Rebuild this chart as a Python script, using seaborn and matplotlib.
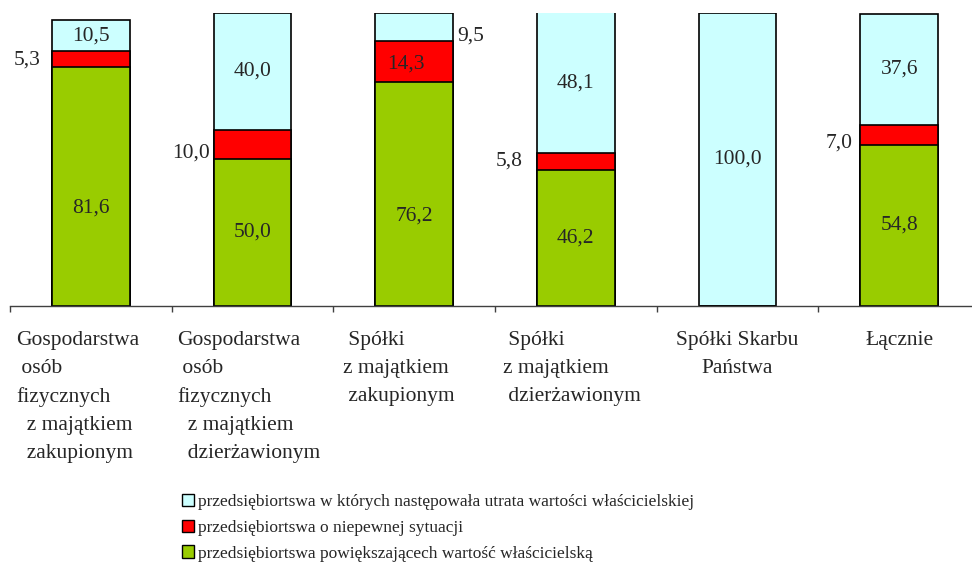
import matplotlib
matplotlib.use("Agg")
import matplotlib.pyplot as plt
import matplotlib.transforms as mtransforms
from matplotlib.patches import Patch
import seaborn as sns
import pandas as pd

sns.set_theme(style="white")
plt.rcParams["font.family"] = ["Liberation Serif", "DejaVu Serif"]

# Category labels (line breaks and indents as typeset under each bar)
categories = [
    "Gospodarstwa\n osób\nfizycznych\n  z majątkiem\n  zakupionym",
    "Gospodarstwa\n osób\nfizycznych\n  z majątkiem\n  dzierżawionym",
    " Spółki\nz majątkiem\n zakupionym",
    " Spółki\nz majątkiem\n dzierżawionym",
    "Spółki Skarbu\nPaństwa",
    "Łącznie",
]
# Share of enterprises (%) in each group
increasing = [81.6, 50.0, 76.2, 46.2, 0.0, 54.8]
uncertain = [5.3, 10.0, 14.3, 5.8, 0.0, 7.0]
losing = [10.5, 40.0, 9.5, 48.1, 100.0, 37.6]

series_names = [
    "przedsiębiortswa w których następowała utrata wartości właścicielskiej",
    "przedsiębiortswa o niepewnej sytuacji",
    "przedsiębiortswa powiększającech wartość właścicielską",
]
colors = {"losing": "#CCFFFF", "uncertain": "#FF0000", "increasing": "#99CC00"}

df = pd.DataFrame({
    "idx": range(len(categories)),
    "increasing": increasing,
    "uncertain": uncertain,
    "losing": losing,
})
df["top_green"] = df["increasing"]
df["top_red"] = df["increasing"] + df["uncertain"]
df["top_cyan"] = df["top_red"] + df["losing"]

fig = plt.figure(figsize=(9.72, 5.72), dpi=100)
ax = fig.add_axes([10 / 972, (572 - 305.7) / 572, 970 / 972, 293 / 572])

FS = 15.5
bar_w = 0.48
for col, key in [("top_cyan", "losing"), ("top_red", "uncertain"), ("top_green", "increasing")]:
    sns.barplot(data=df, x="idx", y=col, order=list(range(len(categories))),
                color=colors[key], saturation=1, width=bar_w,
                edgecolor="black", linewidth=1.2, ax=ax, native_scale=True)

ax.set_xlim(-0.5, 5.5)
ax.set_ylim(0, 100)
ax.set_xlabel("")
ax.set_ylabel("")
ax.set_yticks([])
ax.set_xticks([i - 0.5 for i in range(len(categories) + 1)])
ax.set_xticklabels([])
ax.tick_params(axis="x", direction="out", length=4.5, width=1, color="#404040", bottom=True)
for s in ["left", "top", "right"]:
    ax.spines[s].set_visible(False)
ax.spines["bottom"].set_color("#404040")
ax.spines["bottom"].set_linewidth(1)
ax.grid(False)


def fmt(v):
    return f"{v:.1f}".replace(".", ",")


# Value labels: green and cyan inside their segments
green_frac = [0.41, 0.5, 0.40, 0.5, 0.5, 0.5]
for i in range(len(categories)):
    if df.loc[i, "increasing"] > 0:
        y = df.loc[i, "increasing"] * green_frac[i]
        ax.text(i, y, fmt(df.loc[i, "increasing"]), ha="center", va="center", fontsize=FS)
    if df.loc[i, "losing"] > 0 and i != 2:
        y = df.loc[i, "top_red"] + df.loc[i, "losing"] / 2
        ax.text(i, y, fmt(df.loc[i, "losing"]), ha="center", va="center", fontsize=FS)

# Small cyan segment of the third bar: label to the right
ax.annotate(fmt(df.loc[2, "losing"]), (2 + bar_w / 2, df.loc[2, "top_red"] + df.loc[2, "losing"] * 0.15),
            xytext=(4, 0), textcoords="offset pixels", ha="left", va="center", fontsize=FS)

# Red labels: inside for the large one, to the left of the bar otherwise
red_frac = {0: 0.43, 1: 0.21, 3: 0.55, 5: 0.1}
red_gap = {0: 11, 1: 4, 3: 14, 5: 8}
for i in range(len(categories)):
    v = df.loc[i, "uncertain"]
    if v <= 0:
        continue
    if i == 2:
        ax.text(i - 0.05, df.loc[i, "increasing"] + v * 0.45, fmt(v), ha="center", va="center", fontsize=FS)
    else:
        ax.annotate(fmt(v), (i - bar_w / 2, df.loc[i, "increasing"] + v * red_frac[i]),
                    xytext=(-red_gap[i], 0), textcoords="offset pixels",
                    ha="right", va="center", fontsize=FS)

# Category labels under the axis
trans = mtransforms.blended_transform_factory(ax.transData, ax.transAxes)
label_x = [(-0.463, "left"), (0.533, "left"), (1.559, "left"), (2.549, "left"), (4.0, "center"), (5.0, "center")]
for (x, ha), lab in zip(label_x, categories):
    ax.annotate(lab, (x, 0), xycoords=trans, xytext=(0, -25), textcoords="offset pixels",
                ha=ha, va="top", multialignment="left" if ha == "left" else "center",
                fontsize=FS, linespacing=1.64, annotation_clip=False)

handles = [Patch(facecolor=colors[k], edgecolor="black", linewidth=1)
           for k in ["losing", "uncertain", "increasing"]]
fig.legend(handles, series_names, loc="upper left", bbox_to_anchor=(182 / 972, 1 - 494 / 572),
           frameon=False, fontsize=12.5, handlelength=0.7, handleheight=0.7,
           handletextpad=0.2, labelspacing=0.55, borderpad=0, borderaxespad=0)

fig.savefig("out.png", dpi=100)
